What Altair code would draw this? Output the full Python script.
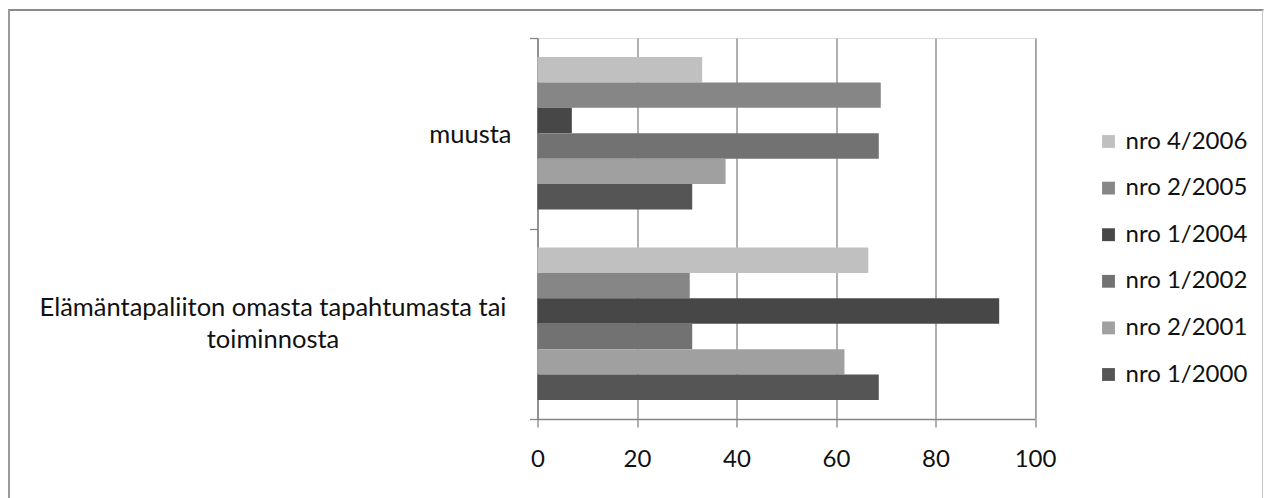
import altair as alt
import pandas as pd

# ---- data ----
categories = ["muusta", "Elämäntapaliiton omasta tapahtumasta tai toiminnosta"]
category_labels = ["muusta", "Elämäntapaliiton omasta tapahtumasta tai\ntoiminnosta"]
series = ["nro 4/2006", "nro 2/2005", "nro 1/2004", "nro 1/2002", "nro 2/2001", "nro 1/2000"]
muusta_values = [33.1, 69.0, 6.9, 68.6, 37.8, 31.1]
elamantapa_values = [66.5, 30.6, 92.8, 31.1, 61.7, 68.6]
colors = ["#c0c0c0", "#868686", "#474747", "#727272", "#a0a0a0", "#555555"]
x_ticks = [0, 20, 40, 60, 80, 100]

rows = []
for cat, vals in zip(categories, [muusta_values, elamantapa_values]):
    for s, v in zip(series, vals):
        rows.append({"category": cat, "series": s, "value": v})
df = pd.DataFrame(rows)
lab_df = pd.DataFrame({"category": categories, "label": category_labels})
one = pd.DataFrame({"a": [0]})

W, H = 497.5, 381
FONT = "Lato"
FS = 24
FS_Y = 25.5
GRID = "#868686"
TXT = "#111111"

y_enc = alt.Y(
    "category:N", sort=categories,
    scale=alt.Scale(paddingInner=0, paddingOuter=0),
    axis=alt.Axis(labels=False, title=None, tickBand="extent", tickSize=8,
                  tickColor=GRID, domainColor=GRID, domainWidth=1.3, tickWidth=1.3,
                  grid=False),
)

bars = alt.Chart(df).mark_bar().encode(
    y=y_enc,
    yOffset=alt.YOffset("series:N", sort=series,
                        scale=alt.Scale(paddingInner=0, paddingOuter=0.75)),
    x=alt.X("value:Q", scale=alt.Scale(domain=[0, 100], nice=False),
            axis=alt.Axis(values=x_ticks, title=None, grid=True, gridColor=GRID,
                          gridWidth=1.3, tickSize=8, tickColor=GRID, tickWidth=1.3,
                          domainColor=GRID, domainWidth=1.3, labelFontSize=FS,
                          labelColor=TXT, labelPadding=20, labelFont=FONT,
                          labelFlush=False)),
    color=alt.Color("series:N", sort=series,
                    scale=alt.Scale(domain=series, range=colors),
                    legend=alt.Legend(title=None, orient="none", legendX=559, legendY=91.5,
                                      symbolType="square", symbolSize=165,
                                      symbolStrokeWidth=0, labelFontSize=FS,
                                      labelFont=FONT, labelColor=TXT,
                                      labelOffset=5, rowPadding=22.6, padding=0)),
)

lab_short = alt.Chart(lab_df).transform_filter(
    alt.datum.category == categories[0]
).mark_text(align="right", baseline="middle", fontSize=FS_Y, font=FONT,
            color=TXT, dy=2).encode(
    y=alt.Y("category:N", sort=categories),
    x=alt.value(-26),
    text="label:N",
)

lab_long = alt.Chart(lab_df).transform_filter(
    alt.datum.category == categories[1]
).mark_text(align="center", baseline="middle", fontSize=FS_Y, font=FONT,
            color=TXT, lineBreak="\n", lineHeight=32, dy=-16).encode(
    y=alt.Y("category:N", sort=categories),
    x=alt.value(-264.5),
    text="label:N",
)

frame_top = alt.Chart(one).mark_rule(color="#8a8a8a", strokeWidth=2).encode(
    x=alt.value(-530), x2=alt.value(726), y=alt.value(-28))
frame_left = alt.Chart(one).mark_rule(color="#9a9a9a", strokeWidth=2).encode(
    x=alt.value(-528.5), y=alt.value(-28), y2=alt.value(480))
frame_right = alt.Chart(one).mark_rule(color="#c4c4c4", strokeWidth=1).encode(
    x=alt.value(725), y=alt.value(-28), y2=alt.value(480))

chart = alt.layer(frame_top, frame_left, frame_right, bars, lab_short, lab_long).properties(
    width=W, height=H,
    autosize=alt.AutoSizeParams(type="none"),
    padding={"left": 529.5, "top": 30, "right": 229, "bottom": 79},
).configure_view(strokeWidth=0).configure(font=FONT)

chart.save("out.html", embed_options={"renderer": "svg", "actions": False})
